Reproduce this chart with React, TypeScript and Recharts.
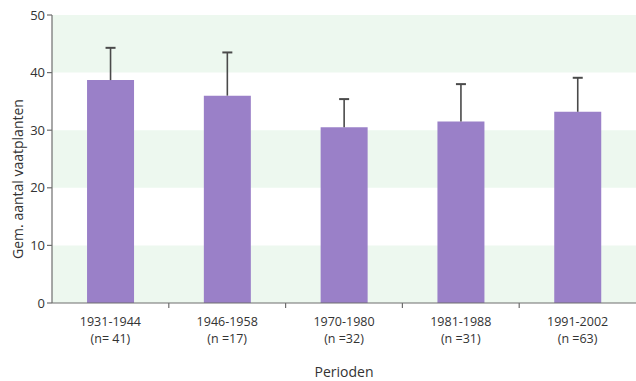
import React from 'react';
import { BarChart, Bar, XAxis, YAxis, ReferenceArea } from 'recharts';

const periods = ['1931-1944', '1946-1958', '1970-1980', '1981-1988', '1991-2002'];
const counts = ['(n= 41)', '(n =17)', '(n =32)', '(n =31)', '(n =63)'];
const means = [38.7, 36.0, 30.5, 31.5, 33.2];
const errors = [5.6, 7.5, 4.9, 6.5, 5.9];
const yTicks = [0, 10, 20, 30, 40, 50];
const bands: [number, number][] = [[0, 10], [20, 30], [40, 50]];

const data = periods.map((p, i) => ({ period: p, n: counts[i], mean: means[i], err: errors[i] }));

const FONT = '"Open Sans", "DejaVu Sans", sans-serif';
const TEXT = '#333';
const AXIS = '#6e6e6e';

const XTick = (props: any) => {
  const { x, y, payload, index } = props;
  const off = payload && typeof payload.offset === 'number' ? payload.offset : 0;
  const d = data[index] || data.find((r) => r.period === payload.value);
  return (
    <g>
      {index > 0 && (
        <line x1={x - off} x2={x - off} y1={y - 8} y2={y - 3} stroke={AXIS} strokeWidth={1.2} />
      )}
      <text x={x} y={y + 15} textAnchor="middle" fontFamily={FONT} fontSize={12.5} fill={TEXT}>
        {payload.value}
      </text>
      <text x={x} y={y + 32} textAnchor="middle" fontFamily={FONT} fontSize={12.5} fill={TEXT}>
        {d ? d.n : ''}
      </text>
    </g>
  );
};

const ErrShape = (props: any) => {
  const { x, y, width, height } = props;
  const cx = x + width / 2;
  return (
    <g>
      <line x1={cx} x2={cx} y1={y} y2={y + height} stroke="#4a4a4a" strokeWidth={1.6} />
      <line x1={cx - 5} x2={cx + 5} y1={y} y2={y} stroke="#4a4a4a" strokeWidth={2} />
    </g>
  );
};

export default function App() {
  return (
    <div style={{ position: 'absolute', left: 0, top: 0, background: '#fff' }}>
      <BarChart
        width={636}
        height={381}
        data={data}
        margin={{ top: 15, right: 0, bottom: 0, left: 0 }}
        barCategoryGap="30%"
      >
        {bands.map(([a, b]) => (
          <ReferenceArea key={a} y1={a} y2={b} fill="#edf8ef" fillOpacity={1} stroke="none" ifOverflow="extendDomain" />
        ))}
        <XAxis
          dataKey="period"
          height={78}
          axisLine={{ stroke: AXIS, strokeWidth: 1.2 }}
          tickLine={false}
          tick={<XTick />}
          interval={0}
          label={{
            content: (p: any) => {
              const vb = p.viewBox || { x: 52, y: 303, width: 584 };
              return (
                <text x={vb.x + vb.width / 2} y={vb.y + 74} textAnchor="middle" fontFamily={FONT} fontSize={14} fill={TEXT}>
                  Perioden
                </text>
              );
            },
          }}
        />
        <YAxis
          domain={[0, 50]}
          ticks={yTicks}
          width={52}
          axisLine={{ stroke: AXIS, strokeWidth: 1.2 }}
          tickLine={{ stroke: AXIS, strokeWidth: 1.2 }}
          tickSize={5}
          tick={{ fontFamily: FONT, fontSize: 13, fill: TEXT }}
          label={{
            content: (p: any) => {
              const vb = p.viewBox || { x: 0, y: 15, width: 52, height: 288 };
              const cx = vb.x + 17;
              const cy = vb.y + vb.height / 2 + 20;
              return (
                <text x={cx} y={cy} transform={`rotate(-90, ${cx}, ${cy})`} textAnchor="middle" dominantBaseline="central" fontFamily={FONT} fontSize={14} fill={TEXT}>
                  Gem. aantal vaatplanten
                </text>
              );
            },
          }}
        />
        <Bar dataKey="mean" stackId="a" fill="#9a80c8" isAnimationActive={false} />
        <Bar dataKey="err" stackId="a" fill="none" shape={<ErrShape />} isAnimationActive={false} />
      </BarChart>
    </div>
  );
}
